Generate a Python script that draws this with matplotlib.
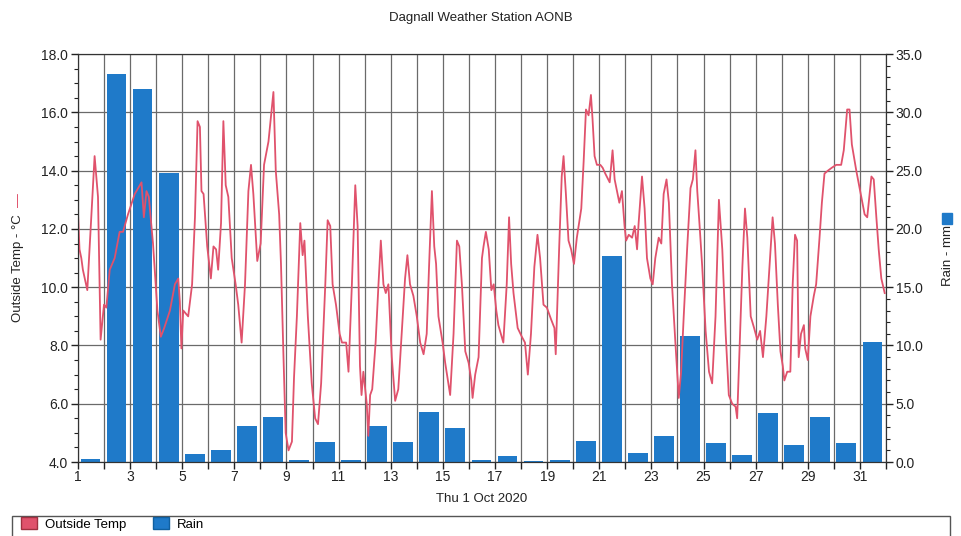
import matplotlib
matplotlib.use('Agg')
import matplotlib.pyplot as plt
from matplotlib.patches import Patch, Rectangle
from matplotlib.ticker import MultipleLocator

plt.rcParams['font.family'] = ['Liberation Sans', 'DejaVu Sans']

# daily rain (mm), one bar per day of October 2020
rain_days = list(range(1, 32))
rain_mm = [0.3, 33.3, 32.0, 24.8, 0.7, 1.0, 3.1, 3.9, 0.2, 1.7,
           0.2, 3.1, 1.7, 4.3, 2.9, 0.2, 0.5, 0.05, 0.2, 1.8,
           17.7, 0.8, 2.2, 10.8, 1.6, 0.6, 4.2, 1.5, 3.9, 1.6, 10.3]

# outside temperature (day position, degC)
temp_day = [1.0, 1.06, 1.13, 1.19, 1.36, 1.51, 1.64, 1.77, 1.87, 2.0,
            2.09, 2.22, 2.41, 2.6, 2.73, 2.92, 3.18, 3.44, 3.53, 3.63,
            3.72, 3.88, 4.05, 4.18, 4.31, 4.53, 4.72, 4.85, 4.91, 4.97,
            5.04, 5.23, 5.38, 5.49, 5.59, 5.68, 5.74, 5.82, 5.96, 6.1,
            6.2, 6.3, 6.38, 6.49, 6.58, 6.67, 6.77, 6.9, 7.05, 7.15,
            7.28, 7.41, 7.54, 7.64, 7.73, 7.88, 8.01, 8.14, 8.31, 8.41,
            8.5, 8.59, 8.72, 8.79, 8.88, 8.97, 9.08, 9.21, 9.29, 9.4,
            9.53, 9.62, 9.69, 9.82, 9.97, 10.1, 10.21, 10.33, 10.49, 10.58,
            10.68, 10.77, 10.9, 11.04, 11.13, 11.29, 11.38, 11.51, 11.64, 11.73,
            11.82, 11.88, 11.95, 12.08, 12.14, 12.21, 12.29, 12.42, 12.53, 12.62,
            12.72, 12.81, 12.91, 13.04, 13.17, 13.29, 13.42, 13.55, 13.64, 13.74,
            13.87, 14.0, 14.13, 14.26, 14.38, 14.47, 14.58, 14.67, 14.74, 14.83,
            14.99, 15.09, 15.28, 15.41, 15.54, 15.63, 15.73, 15.86, 15.99, 16.09,
            16.14, 16.24, 16.37, 16.5, 16.56, 16.65, 16.76, 16.86, 16.95, 17.05,
            17.13, 17.32, 17.45, 17.54, 17.62, 17.71, 17.87, 18.03, 18.15, 18.26,
            18.38, 18.51, 18.63, 18.73, 18.86, 18.99, 19.15, 19.28, 19.33, 19.46,
            19.56, 19.63, 19.72, 19.82, 19.92, 20.03, 20.14, 20.31, 20.4, 20.49,
            20.59, 20.68, 20.74, 20.82, 20.91, 21.04, 21.13, 21.23, 21.4, 21.51,
            21.59, 21.68, 21.77, 21.87, 21.97, 22.03, 22.13, 22.26, 22.36, 22.45,
            22.51, 22.64, 22.74, 22.83, 22.96, 23.05, 23.15, 23.28, 23.38, 23.47,
            23.58, 23.67, 23.79, 23.92, 24.05, 24.14, 24.24, 24.37, 24.5, 24.59,
            24.69, 24.76, 24.85, 24.95, 25.08, 25.21, 25.33, 25.46, 25.59, 25.72,
            25.85, 25.97, 26.1, 26.23, 26.29, 26.38, 26.49, 26.59, 26.68, 26.81,
            26.94, 27.06, 27.17, 27.28, 27.41, 27.53, 27.65, 27.74, 27.85, 27.95,
            28.04, 28.1, 28.21, 28.33, 28.42, 28.51, 28.59, 28.65, 28.74, 28.85,
            28.9, 29.0, 29.1, 29.23, 29.32, 29.45, 29.54, 29.64, 29.77, 29.92,
            30.09, 30.28, 30.38, 30.51, 30.6, 30.69, 30.86, 31.01, 31.18, 31.28,
            31.37, 31.44, 31.53, 31.63, 31.72, 31.82, 31.95]
temp_c = [12.6, 11.3, 11.0, 10.6, 9.9, 12.4, 14.5, 13.1, 8.2, 9.4,
          9.3, 10.6, 11.0, 11.9, 11.9, 12.5, 13.2, 13.6, 12.4, 13.3,
          13.1, 11.5, 9.2, 8.3, 8.6, 9.2, 10.1, 10.3, 9.5, 7.9,
          9.2, 9.0, 10.1, 12.4, 15.7, 15.5, 13.3, 13.2, 11.4, 10.3,
          11.4, 11.3, 10.6, 12.2, 15.7, 13.5, 13.1, 11.0, 10.1, 9.4,
          8.1, 10.1, 13.3, 14.2, 13.2, 10.9, 11.5, 14.2, 15.0, 15.9,
          16.7, 14.0, 12.5, 10.8, 7.8, 5.0, 4.4, 4.7, 6.9, 9.0,
          12.2, 11.1, 11.6, 9.0, 6.7, 5.5, 5.3, 6.7, 10.1, 12.3,
          12.1, 10.1, 9.4, 8.4, 8.1, 8.1, 7.1, 10.1, 13.5, 12.1,
          7.3, 6.3, 7.1, 6.0, 4.9, 6.3, 6.5, 8.1, 10.1, 11.6,
          10.1, 9.8, 10.1, 7.6, 6.1, 6.5, 8.4, 10.3, 11.1, 10.1,
          9.7, 9.0, 8.1, 7.7, 8.4, 10.7, 13.3, 11.4, 10.8, 9.0,
          8.1, 7.4, 6.3, 8.4, 11.6, 11.4, 10.1, 7.8, 7.4, 6.8,
          6.2, 7.0, 7.6, 11.0, 11.4, 11.9, 11.3, 9.9, 10.1, 9.2,
          8.7, 8.1, 10.1, 12.4, 10.8, 9.8, 8.6, 8.3, 8.1, 7.0,
          8.4, 10.7, 11.8, 11.0, 9.4, 9.3, 8.9, 8.6, 7.7, 11.3,
          13.8, 14.5, 13.2, 11.6, 11.3, 10.8, 11.7, 12.7, 14.3, 16.1,
          15.9, 16.6, 15.8, 14.5, 14.2, 14.2, 14.1, 13.9, 13.6, 14.7,
          13.7, 13.3, 12.9, 13.3, 12.1, 11.6, 11.8, 11.7, 12.1, 11.3,
          12.2, 13.8, 12.7, 11.0, 10.3, 10.1, 11.0, 11.7, 11.5, 13.2,
          13.7, 12.9, 10.1, 8.1, 6.2, 7.1, 9.0, 11.3, 13.4, 13.7,
          14.7, 13.3, 12.1, 10.7, 8.5, 7.1, 6.7, 9.0, 13.0, 11.3,
          8.4, 6.3, 6.0, 5.9, 5.5, 7.8, 10.7, 12.7, 11.7, 9.0,
          8.6, 8.2, 8.5, 7.6, 9.0, 10.7, 12.4, 11.5, 9.4, 7.8,
          7.3, 6.8, 7.1, 7.1, 10.1, 11.8, 11.6, 7.6, 8.4, 8.7,
          7.9, 7.5, 9.0, 9.7, 10.1, 11.7, 12.9, 13.9, 14.0, 14.1,
          14.2, 14.2, 14.7, 16.1, 16.1, 14.9, 14.0, 13.3, 12.5, 12.4,
          13.2, 13.8, 13.7, 12.4, 11.3, 10.3, 9.8]

day_ticks = list(range(1, 33))
day_labels = [str(d) if d % 2 == 1 and d < 32 else '' for d in day_ticks]

red = '#e0526c'
blue = '#1f7ac9'
grid_c = '#6a6a6a'
ink = '#222222'

fig = plt.figure(figsize=(9.62, 5.36), dpi=100)
ax = fig.add_axes([0.081, 0.138, 0.840, 0.761])   # rain + grid (behind)
axt = ax.twinx()                                  # temperature (front)

ax.bar([d + 0.1 for d in rain_days], rain_mm, width=0.76, align='edge',
       color=blue, zorder=2)
ax.set_ylim(0, 35)
ax.set_xlim(1, 32)
ax.set_xticks(day_ticks)
ax.set_xticklabels(day_labels)
ax.yaxis.tick_right()
ax.set_yticks([0, 5, 10, 15, 20, 25, 30, 35])
ax.set_yticklabels(['%.1f' % v for v in [0, 5, 10, 15, 20, 25, 30, 35]])
ax.yaxis.set_minor_locator(MultipleLocator(1))
ax.grid(True, color=grid_c, lw=0.9, zorder=0)
ax.set_axisbelow(True)

axt.plot(temp_day, temp_c, color=red, lw=1.3)
axt.set_ylim(4, 18)
axt.yaxis.tick_left()
axt.set_yticks([4, 6, 8, 10, 12, 14, 16, 18])
axt.set_yticklabels(['%.1f' % v for v in [4, 6, 8, 10, 12, 14, 16, 18]])
axt.yaxis.set_minor_locator(MultipleLocator(0.5))

for a in (ax, axt):
    a.tick_params(which='major', length=5, width=1, colors=ink, labelsize=10,
                  direction='out', pad=2)
    a.tick_params(which='minor', length=3, width=0.8, colors=ink, direction='out')
    for s in a.spines.values():
        s.set_color('#333333')
ax.tick_params(axis='x', pad=1)

ax.set_xlabel('Thu 1 Oct 2020', fontsize=9.5, color=ink, labelpad=6)

fig.text(0.5, 0.966, 'Dagnall Weather Station AONB', ha='center', va='center',
         fontsize=9.5, color=ink)

# axis labels with their series keys
fig.text(0.019, 0.50, 'Outside Temp - \u00b0C', rotation=90, ha='center',
         va='center', fontsize=9.5, color=ink)
fig.text(0.019, 0.627, '\u2014', rotation=90, ha='center', va='center',
         fontsize=10, color=red)
fig.text(0.985, 0.524, 'Rain - mm', rotation=90, ha='center', va='center',
         fontsize=9.5, color=ink)
fig.add_artist(Rectangle((0.979, 0.583), 0.011, 0.019, transform=fig.transFigure,
                         color=blue))

# legend panel at the bottom, running off the image edge
fig.add_artist(Rectangle((0.012, -0.05), 0.976, 0.087, transform=fig.transFigure,
                         facecolor='white', edgecolor='#555555', lw=1))
fig.legend(handles=[Patch(facecolor=red, edgecolor='#a03040', label='Outside Temp'),
                    Patch(facecolor=blue, edgecolor='#1060a0', label='Rain')],
           loc='lower left', bbox_to_anchor=(0.01, -0.012), ncol=2, frameon=False,
           fontsize=9.5, handlelength=1.2, handleheight=1.0, columnspacing=2.0,
           handletextpad=0.6)

fig.savefig('out.png', dpi=100)
